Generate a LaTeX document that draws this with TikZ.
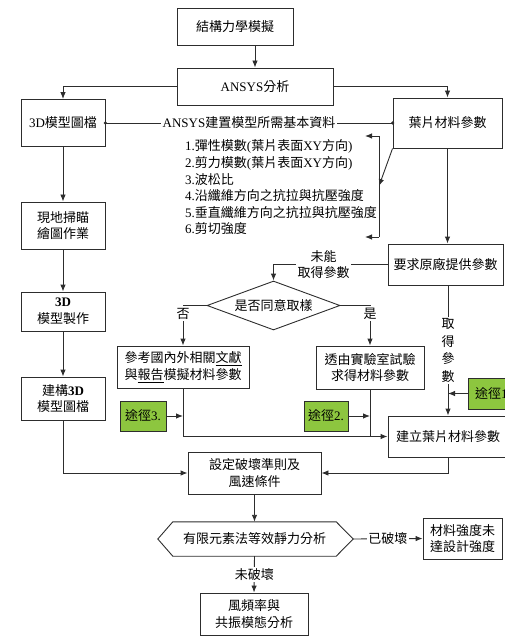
\documentclass[tikz,border=0pt]{standalone}
\usepackage{fontspec}
\setmainfont{Noto Sans CJK TC}
\newfontfamily\lat{Liberation Serif}
\usetikzlibrary{arrows.meta,shapes.geometric}
\definecolor{lineC}{RGB}{45,45,45}
\definecolor{greenC}{RGB}{141,198,63}
\begin{document}
\begin{tikzpicture}[x=1pt,y=-1pt,
  every node/.style={font=\fontsize{13}{16.6}\selectfont, text=black},
  box/.style={draw=lineC, line width=0.9pt, fill=white, inner sep=1pt, align=center},
  gbox/.style={box, fill=greenC},
  lab/.style={fill=white, inner sep=1.5pt, align=center},
  arr/.style={draw=lineC, line width=0.9pt, -{Latex[length=7pt,width=5.5pt]}},
  ln/.style={draw=lineC, line width=0.9pt},
  dot/.style={circle, fill=lineC, inner sep=0pt, minimum size=3.5pt}
]
\useasboundingbox (0,0) rectangle (505,636);

% boxes
\node[box, minimum width=116, minimum height=37] (n1) at (235,26.5) {結構力學模擬};
\node[box, minimum width=156, minimum height=37] (n2) at (255,86.5) {{\lat ANSYS}分析};
\node[box, minimum width=84, minimum height=47] (n3) at (63,123) {{\lat 3D}模型圖檔};
\node[box, minimum width=109, minimum height=50] (n4) at (447.5,123) {葉片材料參數};
\node[box, minimum width=84, minimum height=47] (n5) at (63,225.5) {現地掃瞄\\繪圖作業};
\node[box, minimum width=84, minimum height=39] (n6) at (63,311.5) {{\lat\bfseries 3D}\\模型製作};
\node[box, minimum width=84, minimum height=43] (n7) at (63,398.5) {建構{\lat\bfseries 3D}\\模型圖檔};
\node[box, minimum width=115, minimum height=41] (n8) at (445.5,264.5) {要求原廠提供參數};
\node[draw=lineC, line width=0.9pt, shape=diamond, aspect=2.7, inner sep=0pt,
      minimum width=133, minimum height=49] (d) at (273.5,305.5) {是否同意取樣};
\node[box, minimum width=132, minimum height=42] (n9) at (183,367) {參考國內外相關\underline{文獻}\\與\underline{報告}模擬材料參數};
\node[box, minimum width=108, minimum height=43] (n10) at (370,367.5) {透由實驗室試驗\\求得材料參數};
\node[gbox, minimum width=50, minimum height=31] (g1) at (493,393.5) {途徑{\lat 1.}};
\node[gbox, minimum width=44, minimum height=30] (g2) at (326,416) {途徑{\lat 2.}};
\node[gbox, minimum width=46, minimum height=30] (g3) at (143,416) {途徑{\lat 3.}};
\node[box, minimum width=120, minimum height=41] (n11) at (448,436.5) {建立葉片材料參數};
\node[box, minimum width=133, minimum height=42] (n12) at (254.5,473) {設定破壞準則及\\風速條件};
\node[minimum width=163, minimum height=34, inner sep=0pt] (hex) at (254.5,539) {有限元素法等效靜力分析};
\coordinate (hexE) at ([xshift=17pt]hex.east);
\coordinate (hexW) at ([xshift=-15pt]hex.west);
\draw[ln] (hex.north west) -- (hex.north east) -- (hexE) -- (hex.south east)
  -- (hex.south west) -- (hexW) -- cycle;
\node[box, minimum width=79, minimum height=41] (n13) at (462.5,538.5) {材料強度未\\達設計強度};
\node[box, minimum width=108, minimum height=42] (n14) at (254,614) {風頻率與\\共振模態分析};

% list of parameters
\node[anchor=west, align=left, inner sep=0pt] (list) at (185,187.5)
 {{\lat 1.}彈性模數{\lat (}葉片表面{\lat XY}方向{\lat )}\\
  {\lat 2.}剪力模數{\lat (}葉片表面{\lat XY}方向{\lat )}\\
  {\lat 3.}波松比\\
  {\lat 4.}沿纖維方向之抗拉與抗壓強度\\
  {\lat 5.}垂直纖維方向之抗拉與抗壓強度\\
  {\lat 6.}剪切強度};

% connectors
\draw[arr] (n2.north |- n1.south) -- (n2.north);
\draw[arr] (n2.west) -| (n3.north);
\draw[arr] (n2.east) -| (n4.north);
\draw[ln] (n3.east) -- node[lab, inner sep=2pt] {{\lat ANSYS}建置模型所需基本資料} (n4.west);
\node[dot] (dot1) at (n3.east) {};
\node[dot] (dot2) at (n4.west) {};

\coordinate (bt) at (379,136);
\coordinate (bb) at (379,237);
\coordinate (bm) at (379,186);
\coordinate (btl) at (365,136);
\coordinate (bbl) at (365,237);
\draw[ln] (bt) -- (bb);
\draw[arr] (bt) -- (btl);
\draw[arr] (bb) -- (bbl);
\draw[arr] (n4.south west) -- (bm);

\draw[arr] (n4.south) -- (n4.south |- n8.north);
\draw[arr] (n8.west) -| node[pos=0.28, lab] {未能\\取得參數} (d.north);
\draw[arr] (d.west) -| node[pos=0.5, lab, yshift=-8pt] {否} (n9.north);
\draw[arr] (d.east) -| node[pos=0.5, lab, yshift=-8pt] {是} (n10.north);
\draw[arr] (n11.north |- n8.south) -- node[pos=0.5, lab, font=\fontsize{13}{17.5}\selectfont] {取\\得\\參\\數} (n11.north);
\draw[arr] (g1.west) -- (g1.west -| n11.north);
\draw[arr] (g2.east) -- (g2.east -| n10.south);
\draw[ln] (n10.south) -- (n10.south |- n11.west);
\draw[arr] (g3.east) -- (g3.east -| n9.south);
\draw[arr] (n9.south) |- (n11.west);

\draw[arr] (n3.south) -- (n5.north);
\draw[arr] (n5.south) -- (n6.north);
\draw[arr] (n6.south) -- (n7.north);
\draw[arr] (n7.south) |- (n12.west);
\draw[arr] (n11.south) |- (n12.east);
\draw[arr] (n12.south) -- (hex.north);
\draw[arr] (hexE) -- node[lab] {已破壞} (n13.west);
\draw[arr] (hex.south) -- node[lab] {未破壞} (n14.north);
\end{tikzpicture}
\end{document}
